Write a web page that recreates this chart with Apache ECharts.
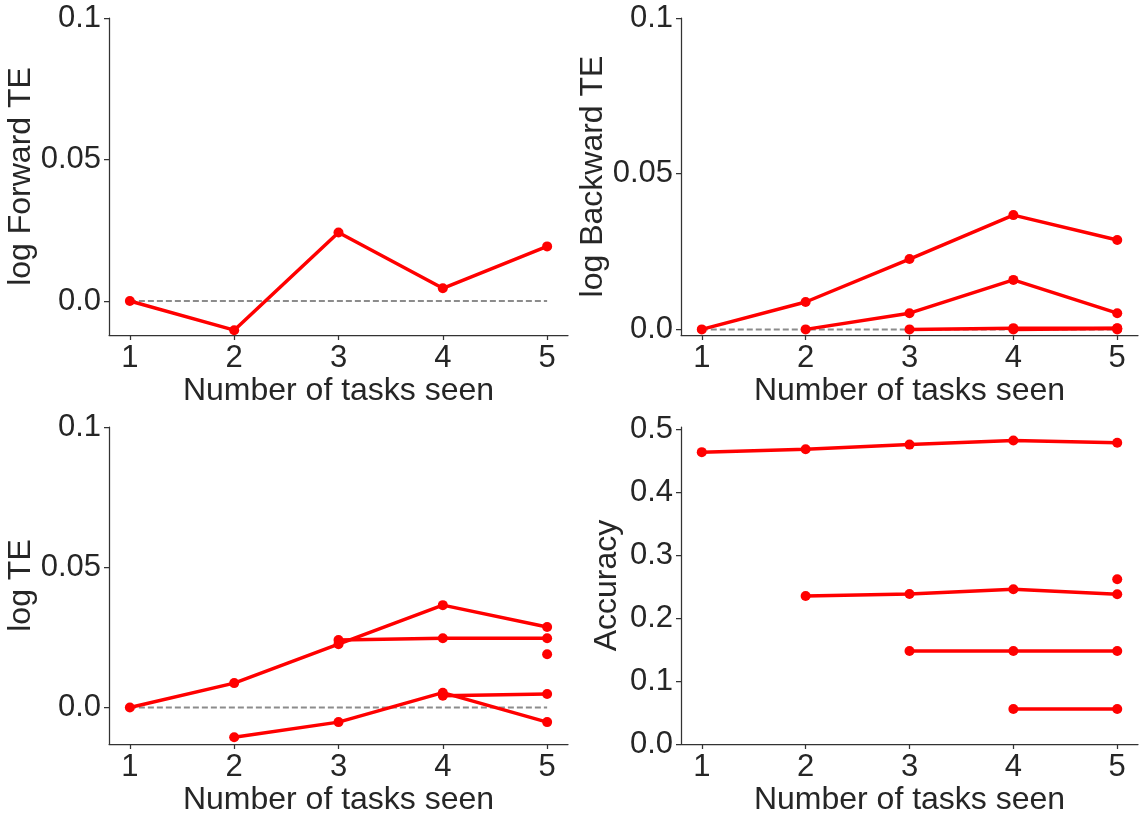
<!DOCTYPE html>
<html>
<head>
<meta charset="utf-8">
<script src="https://cdn.jsdelivr.net/npm/echarts@6/dist/echarts.min.js"></script>
<style>
html,body{margin:0;padding:0;background:#fff;}
#c{width:1144px;height:820px;}
</style>
</head>
<body>
<div id="c"></div>
<script>
// ---- data ----
var tasks = [1, 2, 3, 4, 5];
var xTickLabels = ['1', '2', '3', '4', '5'];
var teTickValues = [0, 0.05, 0.1];
var teTickLabels = ['0.0', '0.05', '0.1'];
var accTickValues = [0, 0.1, 0.2, 0.3, 0.4, 0.5];
var accTickLabels = ['0.0', '0.1', '0.2', '0.3', '0.4', '0.5'];
var zeroLine = [0, 0, 0, 0, 0];

var forwardTE = [0, -0.0103, 0.0242, 0.0045, 0.0193];

var backwardTE1 = [0, 0.0088, 0.0226, 0.0367, 0.0287];
var backwardTE2 = [null, 0, 0.0052, 0.0159, 0.0052];
var backwardTE3 = [null, null, 0, 0.0004, 0.0004];
var backwardTE4 = [null, null, null, 0, 0.0003];
var backwardTE5 = [null, null, null, null, 0];

var totalTE1 = [0, 0.0087, 0.0226, 0.0365, 0.0287];
var totalTE2 = [null, -0.0106, -0.0052, 0.0053, -0.0052];
var totalTE3 = [null, null, 0.0241, 0.0247, 0.0247];
var totalTE4 = [null, null, null, 0.0042, 0.0048];
var totalTE5 = [null, null, null, null, 0.019];

var accuracy1 = [0.464, 0.4687, 0.476, 0.4825, 0.479];
var accuracy2 = [null, 0.2354, 0.2386, 0.246, 0.238];
var accuracy3 = [null, null, 0.148, 0.148, 0.148];
var accuracy4 = [null, null, null, 0.0556, 0.0556];
var accuracy5 = [null, null, null, null, 0.262];

// ---- chart ----
var FONT = '"Liberation Sans", Arial, sans-serif';
var TXT = '#262626';
var AX = '#333333';

function pairs(vals) {
  var out = [];
  for (var i = 0; i < tasks.length; i++) {
    if (vals[i] !== null && vals[i] !== undefined) out.push([tasks[i], vals[i]]);
  }
  return out;
}

var grids = [
  {left: 109, top: 18, width: 459, height: 317},
  {left: 681, top: 18, width: 457, height: 317},
  {left: 109, top: 427, width: 459, height: 317},
  {left: 681, top: 427, width: 457, height: 317}
];
grids.forEach(function (g) { g.containLabel = false; g.outerBoundsMode = 'none'; });

function xAxis(i) {
  return {
    type: 'value', gridIndex: i, min: 0.8, max: 5.2,
    name: 'Number of tasks seen', nameLocation: 'middle', nameGap: 36,
    nameTextStyle: {fontSize: 32, color: TXT, fontFamily: FONT},
    axisLine: {show: true, onZero: false, lineStyle: {color: AX, width: 1.25}},
    axisTick: {show: true, length: 5, inside: false, customValues: tasks, lineStyle: {color: AX, width: 1.25}},
    axisLabel: {show: true, customValues: tasks, margin: 8, fontSize: 31, color: TXT, fontFamily: FONT,
      formatter: function (v) { var k = tasks.indexOf(v); return k >= 0 ? xTickLabels[k] : ''; }},
    splitLine: {show: false}
  };
}
function yAxis(i, name, min, max, tv, tl, gap) {
  return {
    type: 'value', gridIndex: i, min: min, max: max,
    name: name, nameLocation: 'middle', nameGap: gap, nameRotate: 90,
    nameTextStyle: {fontSize: 32, color: TXT, fontFamily: FONT},
    axisLine: {show: true, onZero: false, lineStyle: {color: AX, width: 1.25}},
    axisTick: {show: true, length: 5, inside: false, customValues: tv, lineStyle: {color: AX, width: 1.25}},
    axisLabel: {show: true, customValues: tv, margin: 8, fontSize: 31, color: TXT, fontFamily: FONT,
      formatter: function (v) {
        for (var k = 0; k < tv.length; k++) { if (Math.abs(tv[k] - v) < 1e-9) return tl[k]; }
        return '';
      }},
    splitLine: {show: false}
  };
}

var series = [];
function dashed(i) {
  series.push({
    type: 'line', xAxisIndex: i, yAxisIndex: i, data: pairs(zeroLine),
    showSymbol: false, symbol: 'none', silent: true, z: 1,
    lineStyle: {color: '#8c8c8c', width: 2, type: [6, 3]}
  });
}
function red(i, vals) {
  series.push({
    type: 'line', xAxisIndex: i, yAxisIndex: i, data: pairs(vals),
    symbol: 'circle', symbolSize: 10, showSymbol: true, showAllSymbol: true, z: 3,
    lineStyle: {color: '#ff0000', width: 3.5},
    itemStyle: {color: '#ff0000'}
  });
}

dashed(0);
red(0, forwardTE);

dashed(1);
[backwardTE1, backwardTE2, backwardTE3, backwardTE4, backwardTE5].forEach(function (s) { red(1, s); });

dashed(2);
[totalTE1, totalTE2, totalTE3, totalTE4, totalTE5].forEach(function (s) { red(2, s); });

[accuracy1, accuracy2, accuracy3, accuracy4, accuracy5].forEach(function (s) { red(3, s); });

var chart = echarts.init(document.getElementById('c'), null, {renderer: 'canvas'});
chart.setOption({
  animation: false,
  backgroundColor: '#ffffff',
  grid: grids,
  xAxis: [xAxis(0), xAxis(1), xAxis(2), xAxis(3)],
  yAxis: [
    yAxis(0, 'log Forward TE', -0.012, 0.1, teTickValues, teTickLabels, 70),
    yAxis(1, 'log Backward TE', -0.0018, 0.1, teTickValues, teTickLabels, 70),
    yAxis(2, 'log TE', -0.013, 0.1, teTickValues, teTickLabels, 70),
    yAxis(3, 'Accuracy', 0, 0.504, accTickValues, accTickLabels, 58)
  ],
  series: series
});
</script>
</body>
</html>
